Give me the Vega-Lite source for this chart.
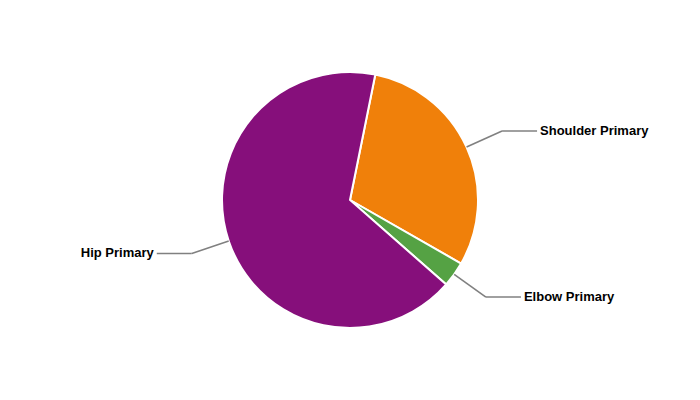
{
  "$schema": "https://vega.github.io/schema/vega-lite/v6.json",
  "width": 700,
  "height": 400,
  "padding": 0,
  "autosize": {"type": "fit", "contains": "padding"},
  "background": "white",
  "view": {"stroke": null},
  "data": {
    "values": [
      {"part": "Shoulder Primary", "share": 30.1, "rank": 1},
      {"part": "Elbow Primary", "share": 3.2, "rank": 2},
      {"part": "Hip Primary", "share": 66.7, "rank": 3}
    ]
  },
  "transform": [
    {"joinaggregate": [{"op": "sum", "field": "share", "as": "total"}]},
    {"window": [{"op": "sum", "field": "share", "as": "cum"}], "sort": [{"field": "rank", "order": "ascending"}], "frame": [null, 0]},
    {"calculate": "0.199 + 2*PI*(datum.cum - datum.share/2)/datum.total", "as": "mid"},
    {"calculate": "sin(datum.mid)", "as": "sx"},
    {"calculate": "cos(datum.mid)", "as": "cy"},
    {"calculate": "128*datum.sx", "as": "x0"},
    {"calculate": "128*datum.cy", "as": "y0"},
    {"calculate": "167*datum.sx", "as": "x1"},
    {"calculate": "167*datum.cy", "as": "y1"},
    {"calculate": "datum.x1 + (datum.sx > 0 ? 35 : -35)", "as": "x2"},
    {"calculate": "datum.x2 + (datum.sx > 0 ? 3 : -3)", "as": "lx"}
  ],
  "layer": [
    {
      "mark": {"type": "arc", "outerRadius": 128, "stroke": "white", "strokeWidth": 2},
      "encoding": {
        "theta": {"field": "share", "type": "quantitative", "stack": true, "scale": {"range": [0.199, 6.4822]}},
        "order": {"field": "rank", "type": "quantitative"},
        "color": {
          "field": "part",
          "type": "nominal",
          "scale": {"domain": ["Shoulder Primary", "Elbow Primary", "Hip Primary"], "range": ["#F0800A", "#55A244", "#860F7B"]},
          "legend": null
        }
      }
    },
    {
      "mark": {"type": "rule", "color": "#808080", "strokeWidth": 1.6},
      "encoding": {
        "x": {"field": "x0", "type": "quantitative", "scale": {"domain": [-350, 350], "nice": false, "zero": false}, "axis": null},
        "y": {"field": "y0", "type": "quantitative", "scale": {"domain": [-200, 200], "nice": false, "zero": false}, "axis": null},
        "x2": {"field": "x1"},
        "y2": {"field": "y1"}
      }
    },
    {
      "mark": {"type": "rule", "color": "#808080", "strokeWidth": 1.6},
      "encoding": {
        "x": {"field": "x1", "type": "quantitative"},
        "y": {"field": "y1", "type": "quantitative"},
        "x2": {"field": "x2"},
        "y2": {"field": "y1"}
      }
    },
    {
      "transform": [{"filter": "datum.sx > 0"}],
      "mark": {"type": "text", "align": "left", "baseline": "middle", "font": "Liberation Sans", "fontWeight": "bold", "fontSize": 13, "color": "#000000"},
      "encoding": {
        "x": {"field": "lx", "type": "quantitative"},
        "y": {"field": "y1", "type": "quantitative"},
        "text": {"field": "part"}
      }
    },
    {
      "transform": [{"filter": "datum.sx < 0"}],
      "mark": {"type": "text", "align": "right", "baseline": "middle", "font": "Liberation Sans", "fontWeight": "bold", "fontSize": 13, "color": "#000000"},
      "encoding": {
        "x": {"field": "lx", "type": "quantitative"},
        "y": {"field": "y1", "type": "quantitative"},
        "text": {"field": "part"}
      }
    }
  ]
}
